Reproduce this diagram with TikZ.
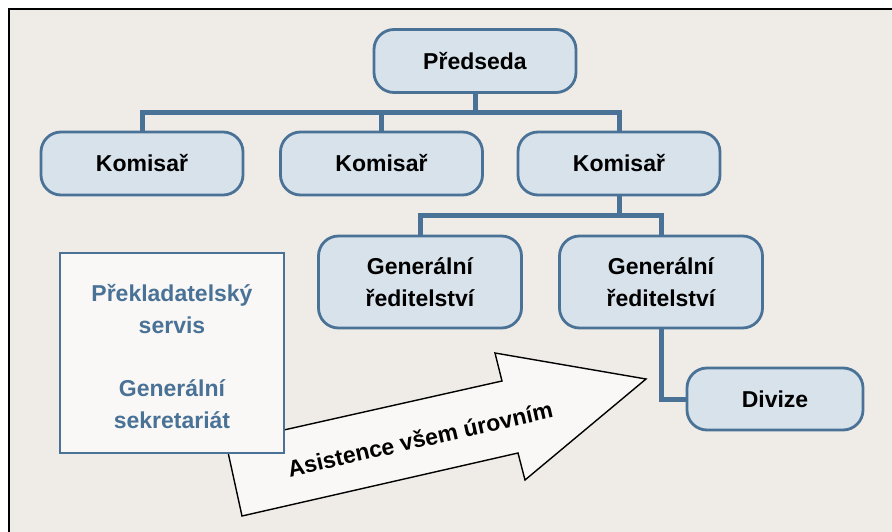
\documentclass[tikz,border=0pt]{standalone}
\usepackage{fontspec}
\setmainfont{Liberation Sans}
\definecolor{bgbeige}{HTML}{EFECE8}
\definecolor{boxfill}{HTML}{D8E2EB}
\definecolor{steel}{HTML}{4A7296}
\definecolor{paper}{HTML}{F9F8F6}
\tikzset{
  orgbox/.style={draw=steel, line width=2.8pt, fill=boxfill, rounded corners=20pt,
    minimum width=202pt, minimum height=63pt, align=center,
    font=\fontsize{23}{32}\selectfont\bfseries, text=black, inner sep=0pt},
  conn/.style={draw=steel, line width=5pt, line join=miter},
  sidebox/.style={draw=steel, line width=2.8pt, fill=paper,
    minimum width=224pt, minimum height=200pt, inner sep=0pt},
  sidetext/.style={align=center, font=\fontsize{23}{32}\selectfont\bfseries,
    text=steel, inner sep=0pt},
  bigarrow/.style={draw=black, line width=1.4pt, fill=paper, line join=miter}
}
\begin{document}
\begin{tikzpicture}[x=1pt, y=-1pt]
  \useasboundingbox (0,0) rectangle (892,532);
  % page frame
  \fill[white] (0,0) rectangle (892,532);
  \fill[bgbeige] (9,9) rectangle (892,532);
  \draw[black, line width=2.2pt] (9,532) -- (9,9) -- (892,9);

  % hierarchy
  \node[orgbox] (pred) at (475,61) {Předseda};
  \node[orgbox] (k1) at (142,163.5) {Komisař};
  \node[orgbox] (k2) at (381.5,163.5) {Komisař};
  \node[orgbox] (k3) at (619,163.5) {Komisař};
  \node[orgbox, minimum height=92pt, minimum width=203pt] (g1) at (420,282) {Generální\\ředitelství};
  \node[orgbox, minimum height=92pt, minimum width=203pt] (g2) at (661,282) {Generální\\ředitelství};
  \node[orgbox, minimum width=176pt, minimum height=62pt] (div) at (775,399) {Divize};

  % connectors
  \draw[conn] (pred.south) -- ++(0,19) -| (k1.north);
  \draw[conn] (pred.south) -- ++(0,19) -| (k3.north);
  \draw[conn] (pred.south) ++(0,19) -| (k2.north);
  \draw[conn] (k3.south) -- ++(0,19) -| (g1.north);
  \draw[conn] (k3.south) -- ++(0,19) -| (g2.north);
  \draw[conn] (g2.south) |- (div.west);

  % support arrow
  \coordinate (a1) at (226,443);
  \coordinate (a2) at (502,381);
  \coordinate (a3) at (495,353);
  \coordinate (a4) at (646,379);
  \coordinate (a5) at (525,480);
  \coordinate (a6) at (518,453);
  \coordinate (a7) at (242,516);
  \draw[bigarrow] (a1) -- (a2) -- (a3) -- (a4) -- (a5) -- (a6) -- (a7) -- cycle;
  \node[rotate=12.8, font=\fontsize{23}{32}\selectfont\bfseries] (help) at (420,439) {Asistence všem úrovním};

  % support services
  \node[sidebox] (side) at (172,353) {};
  \node[sidetext] (sidelabel) at (172,356.5) {Překladatelský\\servis\\[31pt]Generální\\sekretariát};
\end{tikzpicture}
\end{document}
